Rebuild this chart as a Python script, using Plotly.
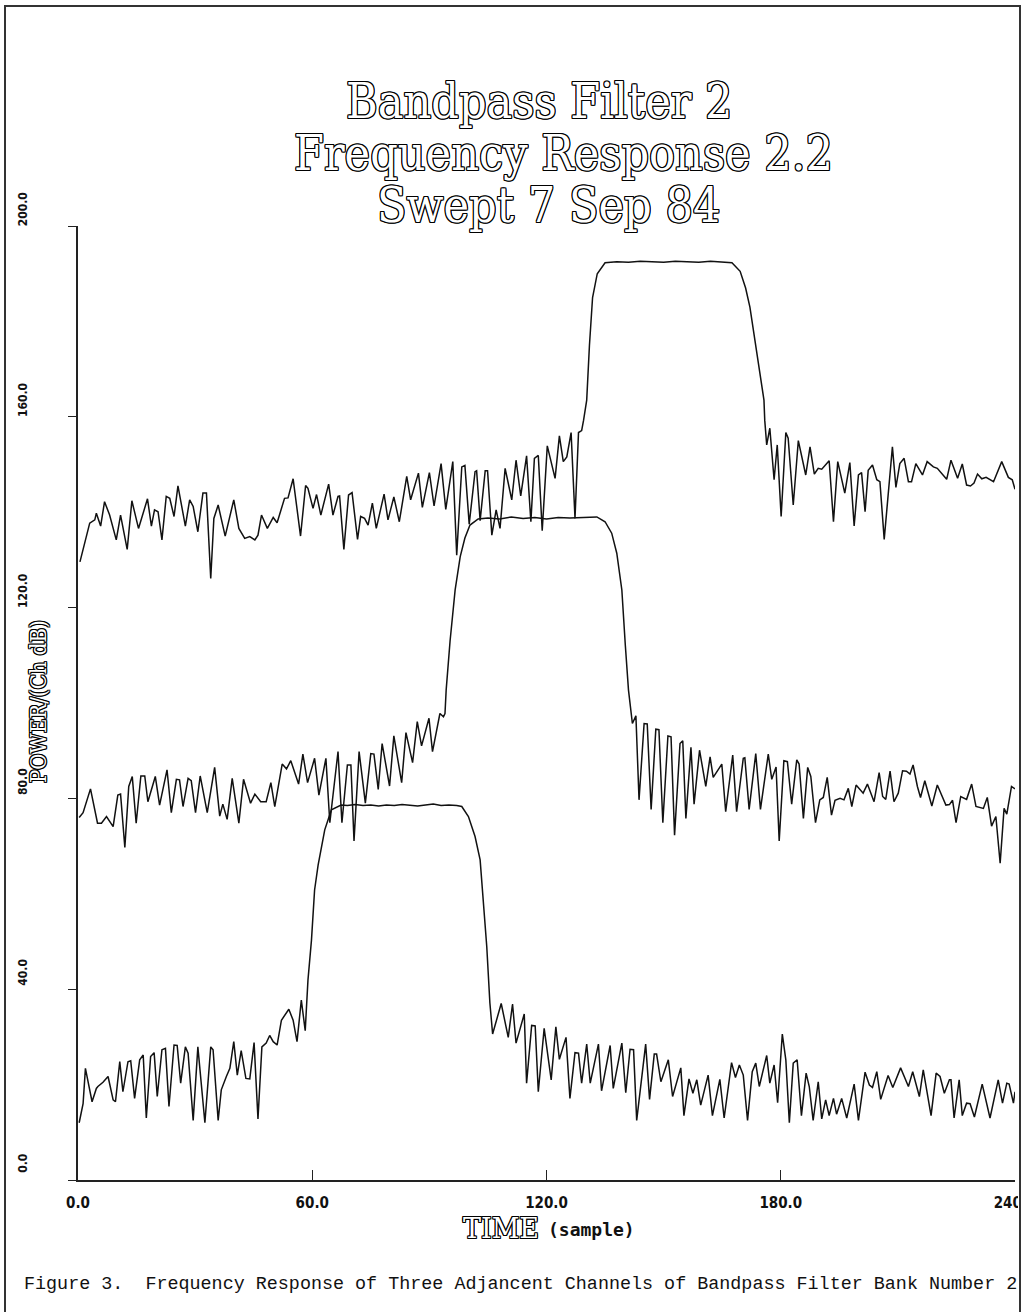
import plotly.graph_objects as go

# ---------------- data ----------------
x_ticks = [0, 60, 120, 180, 240]
x_tick_labels = ["0.0", "60.0", "120.0", "180.0", "240.0"]
y_ticks = [0, 40, 80, 120, 160, 200]
y_tick_labels = ["0.0", "40.0", "80.0", "120.0", "160.0", "200.0"]

# channel 1 (lowest trace)
ch1_x = [0.3, 1.3, 1.9, 3.6, 4.7, 5.1, 6.4, 7.7, 9.0, 9.6, 10.7, 11.5, 12.8, 13.5, 14.5, 15.8, 16.7, 17.5,
         18.6, 19.5, 20.3, 21.5, 22.4, 23.3, 24.6, 25.4, 26.3, 27.5, 28.2, 29.5, 30.7, 32.5, 34.0, 34.6,
         35.9, 36.7, 38.0, 38.9, 39.9, 40.8, 41.8, 43.0, 44.0, 45.1, 46.1, 47.1, 48.2, 49.1, 50.0, 51.0,
         52.1, 54.0, 55.1, 56.1, 57.2, 58.2, 58.9, 59.8, 60.6, 61.5, 63.2, 64.9, 67.4, 69.0, 71.0, 73.0,
         75.0, 77.0, 79.0, 81.0, 83.0, 85.0, 87.0, 89.0, 91.0, 93.0, 95.0, 97.0, 98.3, 100.0, 101.7,
         103.0, 103.6, 104.7, 105.5, 106.2, 108.4, 110.2, 111.3, 112.2, 114.3, 114.9, 116.2, 117.1,
         117.9, 119.4, 121.2, 122.4, 123.3, 125.0, 126.0, 127.3, 128.2, 129.0, 130.3, 131.2, 133.3,
         134.1, 136.3, 137.1, 139.3, 140.3, 141.4, 142.3, 143.1, 145.4, 146.4, 147.6, 148.2, 149.3,
         151.2, 152.3, 154.4, 155.2, 156.5, 157.5, 158.5, 159.5, 161.4, 162.5, 164.4, 165.5, 167.4,
         168.4, 169.4, 170.4, 171.5, 172.7, 173.6, 174.5, 176.4, 177.2, 178.3, 179.2, 180.4, 181.3,
         182.2, 183.2, 184.2, 185.3, 186.5, 187.3, 188.3, 189.6, 190.5, 191.5, 192.4, 193.5, 194.3,
         195.6, 196.9, 198.8, 199.9, 201.6, 202.7, 203.5, 204.6, 205.6, 207.5, 208.7, 210.7, 212.7,
         213.8, 215.5, 216.5, 218.5, 219.8, 220.8, 221.9, 223.2, 223.6, 224.4, 225.7, 226.5, 227.6,
         228.5, 229.6, 231.6, 233.6, 235.7, 236.8, 237.9, 238.5, 239.6, 240.0]
ch1_y = [12.0, 16.0, 23.4, 16.4, 19.2, 19.6, 20.5, 21.7, 16.8, 16.4, 24.8, 18.5, 24.8, 25.0, 17.1, 25.2, 26.2, 13.0,
         25.9, 26.7, 17.5, 27.3, 27.6, 15.4, 28.3, 28.2, 20.3, 27.9, 26.6, 12.5, 27.9, 12.0, 27.9, 27.3,
         12.5, 18.9, 21.7, 23.4, 29.0, 22.0, 27.1, 21.3, 21.2, 28.8, 12.8, 27.9, 28.7, 30.3, 29.0, 28.3,
         33.5, 35.8, 33.5, 29.0, 37.7, 31.3, 41.9, 50.3, 60.8, 66.0, 73.4, 77.6, 78.6, 78.5, 78.7, 78.5,
         78.6, 78.4, 78.6, 78.5, 78.7, 78.5, 78.4, 78.6, 78.8, 78.5, 78.6, 78.5, 78.3, 76.2, 72.0,
         67.1, 60.8, 48.9, 37.1, 30.6, 37.0, 29.9, 36.9, 28.7, 34.8, 20.3, 32.4, 32.3,
         18.5, 31.8, 21.0, 32.1, 25.3, 29.9, 17.1, 26.7, 26.6, 20.3, 28.5, 20.3, 28.5,
         18.7, 28.2, 19.2, 28.7, 18.3, 27.4, 27.3, 12.5, 28.5, 16.9, 26.4, 26.4, 20.6,
         25.2, 17.5, 23.5, 13.5, 21.2, 18.2, 21.0, 15.7, 22.0, 13.5, 21.1, 13.0, 24.6,
         21.5, 24.1, 22.0, 12.5, 22.7, 24.5, 19.6, 26.1, 20.3, 24.1, 16.2, 30.6, 25.2,
         12.0, 24.5, 25.2, 13.5, 22.4, 19.6, 12.5, 20.6, 12.8, 16.8, 13.5, 17.1, 13.8,
         17.1, 13.0, 20.1, 12.5, 22.6, 19.9, 19.4, 22.7, 16.9, 21.9, 19.4, 23.5, 19.6,
         22.7, 17.5, 23.1, 13.5, 22.4, 21.7, 18.2, 21.0, 21.0, 13.0, 21.0, 13.5, 16.1,
         16.0, 13.2, 20.1, 13.0, 21.0, 16.1, 20.3, 20.1, 16.1, 18.5]

# channel 2 (middle trace)
ch2_x = [0.3, 1.3, 3.2, 5.0, 6.0, 7.3, 9.0, 10.2, 10.9, 12.0, 13.0, 13.9, 14.9, 16.1, 17.1, 17.9, 19.8, 20.9,
         22.8, 23.9, 25.2, 26.0, 26.9, 28.2, 29.0, 30.1, 31.3, 33.1, 35.0, 36.3, 37.1, 38.2, 39.5, 41.2,
         42.4, 44.2, 45.3, 46.8, 48.2, 49.4, 50.4, 52.3, 53.4, 54.5, 56.5, 57.6, 58.8, 60.6, 61.7, 63.5,
         64.5, 66.6, 67.6, 69.0, 69.9, 70.7, 72.0, 73.6, 75.0, 75.8, 76.9, 77.9, 79.8, 80.9, 82.9, 84.0,
         85.7, 86.9, 88.0, 89.9, 90.8, 92.7, 93.6, 94.0, 94.3, 95.3, 96.6, 97.9, 99.1, 100.4, 102.5,
         105.0, 108.0, 111.0, 114.0, 117.0, 120.0, 123.0, 126.0, 129.0, 132.9, 135.0, 136.7, 138.0,
         139.3, 140.2, 141.0, 142.0, 142.9, 143.7, 145.0, 145.8, 146.8, 148.0, 148.8, 149.8, 151.1,
         151.9, 152.8, 154.2, 154.9, 155.7, 157.0, 157.8, 159.2, 160.8, 161.9, 162.7, 164.9, 165.9,
         167.7, 168.7, 170.4, 170.8, 171.9, 173.6, 174.8, 176.8, 177.7, 178.8, 179.6, 180.8, 181.7,
         182.8, 184.1, 184.7, 185.8, 186.9, 187.7, 188.9, 190.0, 190.9, 191.9, 193.0, 193.9, 195.2,
         196.2, 197.3, 198.2, 199.3, 201.1, 202.2, 203.9, 205.2, 206.1, 206.9, 208.0, 209.0, 210.1,
         211.2, 212.2, 213.1, 213.9, 215.0, 215.8, 216.9, 218.7, 220.1, 221.2, 222.3, 223.2, 224.0,
         224.9, 226.1, 227.6, 228.9, 230.0, 231.9, 232.9, 234.0, 235.1, 236.2, 237.2, 237.9, 239.1, 240.0]
ch2_y = [76.0, 77.0, 82.0, 74.8, 74.8, 76.2, 74.1, 80.7, 80.9, 69.7, 82.5, 84.6, 74.8, 84.7, 84.7, 79.3, 84.6, 78.6,
         86.0, 77.0, 84.0, 83.9, 78.3, 84.2, 83.7, 77.0, 84.7, 77.0, 86.5, 76.3, 78.8, 75.6, 84.2, 74.8,
         84.0, 79.0, 80.9, 79.3, 79.3, 83.3, 78.3, 87.2, 86.2, 87.9, 83.0, 89.3, 83.3, 88.4, 80.7, 88.4,
         74.9, 89.8, 74.9, 87.0, 87.0, 71.1, 89.8, 79.0, 89.4, 89.3, 81.9, 91.5, 82.6, 93.1, 83.3, 93.8,
         87.5, 96.1, 91.0, 96.8, 89.8, 97.8, 97.1, 97.8, 102.7, 113.0, 123.7, 130.7, 134.6, 137.3, 138.6,
         138.8, 138.6, 139.0, 138.7, 138.9, 138.6, 138.9, 138.8, 138.9, 139.0, 138.0, 135.6, 131.4,
         123.7, 112.0, 102.7, 95.7, 97.3, 79.7, 95.7, 95.6, 77.7, 94.5, 94.4, 74.9, 93.1,
         92.9, 72.3, 91.5, 92.1, 75.8, 90.7, 78.8, 90.1, 82.5, 88.7, 84.4, 87.2, 77.2,
         89.1, 77.2, 88.4, 88.5, 77.7, 89.4, 77.7, 89.3, 84.0, 86.6, 71.1, 87.9, 87.7,
         78.8, 88.1, 87.2, 75.8, 86.5, 84.6, 74.9, 79.7, 80.2, 84.4, 76.5, 79.6, 80.0,
         79.7, 82.1, 78.3, 82.8, 81.1, 83.0, 79.3, 85.4, 80.4, 79.8, 85.7, 79.3, 81.1,
         85.8, 85.7, 85.1, 87.0, 82.5, 80.2, 83.7, 78.4, 82.8, 80.7, 78.6, 78.7, 79.6,
         74.9, 80.4, 79.8, 83.0, 78.3, 77.9, 80.2, 74.2, 76.2, 66.4, 77.9, 76.7, 82.5, 82.0]

# channel 3 (top trace)
ch3_x = [0.5, 3.0, 4.3, 4.7, 5.8, 6.8, 8.1, 9.8, 10.9, 12.6, 13.8, 15.5, 17.8, 18.8, 19.6, 20.5, 21.5, 22.6,
         23.5, 24.6, 25.6, 27.5, 28.6, 29.5, 30.7, 32.0, 32.9, 34.0, 34.8, 35.9, 37.7, 39.9, 41.2, 42.7,
         44.0, 45.3, 46.1, 47.0, 48.5, 50.0, 51.0, 52.9, 53.8, 55.1, 57.0, 58.3, 58.9, 60.2, 61.1, 62.2,
         64.2, 65.3, 66.6, 67.0, 68.1, 69.3, 70.2, 71.6, 72.4, 73.4, 74.3, 75.4, 76.4, 78.4, 79.4, 80.9,
         82.3, 84.2, 85.2, 87.2, 88.2, 90.0, 91.2, 93.0, 94.2, 96.0, 97.0, 98.3, 99.1, 100.2, 101.7,
         102.1, 103.0, 104.3, 104.9, 106.0, 107.1, 108.1, 109.4, 111.1, 112.2, 113.4, 114.9, 116.0,
         116.9, 117.9, 118.9, 120.2, 122.2, 123.3, 124.3, 125.2, 126.3, 127.3, 128.2, 129.0, 129.5,
         130.3, 131.0, 131.8, 133.0, 135.0, 138.0, 141.0, 144.0, 147.0, 150.0, 153.0, 156.0, 159.0,
         162.0, 165.0, 167.5, 169.6, 171.0, 172.1, 173.4, 174.7, 175.7, 175.9, 176.4, 177.2, 178.3,
         179.1, 180.1, 181.3, 181.9, 183.2, 184.5, 186.4, 187.5, 188.6, 189.6, 190.5, 192.4, 193.5,
         194.6, 196.4, 197.7, 198.8, 199.9, 200.7, 201.6, 202.4, 203.5, 204.6, 205.4, 206.5, 208.6,
         209.5, 210.5, 211.6, 212.7, 213.5, 214.6, 216.3, 217.5, 219.1, 220.1, 222.5, 223.6, 225.3,
         226.5, 227.6, 228.6, 229.5, 230.4, 231.5, 232.6, 234.5, 236.6, 238.3, 239.3, 240.0]
ch3_y = [129.6, 137.7, 138.4, 139.8, 137.1, 142.2, 139.4, 134.2, 139.4, 132.2, 142.4, 136.6, 142.8, 137.1, 140.5,
         140.1, 134.2, 143.3, 142.9, 139.1, 145.5, 137.1, 142.6, 141.2, 135.9, 144.0, 144.0, 126.1, 138.7,
         141.5, 135.0, 142.6, 136.6, 134.5, 134.9, 134.2, 135.2, 139.4, 136.6, 138.9, 137.8, 142.9, 143.0,
         147.0, 135.0, 145.6, 145.0, 140.8, 143.7, 139.4, 145.9, 139.4, 143.3, 143.4, 132.2, 143.6, 144.1,
         134.3, 139.1, 138.7, 137.3, 141.9, 136.6, 143.8, 138.4, 143.2, 138.0, 147.5, 142.6, 148.2, 141.0,
         148.3, 141.3, 150.2, 140.6, 150.6, 131.0, 149.5, 149.8, 137.5, 148.5, 148.7, 138.2, 148.7, 148.7,
         135.2, 140.5, 136.6, 149.2, 142.6, 150.9, 143.4, 151.8, 138.0, 151.3, 151.9, 136.1, 153.9, 147.1,
         156.0, 150.6, 151.6, 156.7, 138.7, 156.7, 157.1, 159.3, 163.5, 175.0, 185.0, 190.0, 192.3, 192.5,
         192.4, 192.6, 192.5, 192.4, 192.6, 192.5, 192.4, 192.6, 192.5, 192.3, 190.5, 187.0, 183.0, 176.0,
         168.0, 163.5, 159.3, 154.1, 157.6, 146.8, 154.1, 139.1, 156.7, 155.5, 141.5, 155.0, 147.8, 153.7,
         148.0, 149.2, 149.0, 150.8, 138.0, 150.6, 144.0, 150.4, 137.1, 147.8, 148.3, 140.1, 148.8, 149.9,
         146.8, 146.4, 134.3, 153.7, 145.2, 150.2, 151.3, 146.4, 146.4, 150.2, 147.8, 150.6, 149.5, 149.2,
         146.9, 150.9, 147.1, 150.1, 145.7, 145.5, 146.1, 148.0, 147.0, 147.3, 146.4, 150.6, 147.3, 146.8,
         144.8]

title_lines = ["Bandpass Filter 2", "Frequency Response 2.2", "Swept 7 Sep 84"]
x_title_a = "TIME"
x_title_b = "(sample)"
y_title = "POWER/(Ch dB)"
caption = "Figure 3.  Frequency Response of Three Adjancent Channels of Bandpass Filter Bank Number 2"

# ---------------- figure ----------------
W, H = 1025, 1312
L, R, T, B = 78, 10, 226, 132
PW, PH = W - L - R, H - T - B


def px2paper_x(px):
    return (px - L) / PW


def px2paper_y(py):
    return (H - B - py) / PH


OUTLINE = ("1px 0 0 #000, -1px 0 0 #000, 0 1px 0 #000, 0 -1px 0 #000, "
           "1px 1px 0 #000, -1px -1px 0 #000, 1px -1px 0 #000, -1px 1px 0 #000")

fig = go.Figure()
for xs, ys in [(ch1_x, ch1_y), (ch2_x, ch2_y), (ch3_x, ch3_y)]:
    fig.add_trace(go.Scatter(x=xs, y=ys, mode="lines",
                             line=dict(color="#111111", width=1.5),
                             showlegend=False, hoverinfo="skip"))

tick_font = dict(family="DejaVu Sans Condensed", size=15, color="#111", weight="bold")

fig.update_layout(
    width=W, height=H,
    margin=dict(l=L, r=R, t=T, b=B, pad=0, autoexpand=False),
    paper_bgcolor="white", plot_bgcolor="white",
    font=dict(family="DejaVu Sans Condensed", color="#111"),
    xaxis=dict(range=[0, 240], tickmode="array", tickvals=x_ticks, ticktext=x_tick_labels,
               showgrid=False, zeroline=False, showline=True, linecolor="#222", linewidth=1.5,
               ticks="inside", ticklen=10, tickcolor="#222", tickwidth=1.2, automargin=False,
               tickfont=tick_font, ticklabelstandoff=8, ticklabeloverflow="allow"),
    yaxis=dict(range=[0, 200], tickmode="array", tickvals=y_ticks, ticktext=y_tick_labels,
               showgrid=False, zeroline=False, showline=True, linecolor="#222", linewidth=1.5,
               ticks="outside", ticklen=8, tickcolor="#222", tickwidth=1.2, automargin=False,
               tickangle=-90,
               tickfont=dict(family="DejaVu Sans Condensed", size=12, color="#111", weight="bold"),
               ticklabelstandoff=36, ticklabelshift=-15, ticklabeloverflow="allow"),
)

# title lines (outlined serif)
title_pos = [(539, 101), (563, 153), (548, 205)]
for text, (cx, cy) in zip(title_lines, title_pos):
    fig.add_annotation(text=text, xref="paper", yref="paper",
                       x=px2paper_x(cx), y=px2paper_y(cy), xanchor="center", yanchor="middle",
                       showarrow=False,
                       font=dict(family="DejaVu Serif Condensed", size=48, color="white", shadow=OUTLINE))

# x-axis title
fig.add_annotation(text=x_title_a, xref="paper", yref="paper",
                   x=px2paper_x(541), y=px2paper_y(1228), xanchor="right", yanchor="middle",
                   showarrow=False,
                   font=dict(family="DejaVu Serif", size=27, color="white", shadow=OUTLINE))
fig.add_annotation(text=x_title_b, xref="paper", yref="paper",
                   x=px2paper_x(546), y=px2paper_y(1229), xanchor="left", yanchor="middle",
                   showarrow=False,
                   font=dict(family="DejaVu Sans Mono", size=18, color="#111", weight="bold"))

# y-axis title
fig.add_annotation(text=y_title, xref="paper", yref="paper", textangle=-90,
                   x=px2paper_x(38), y=px2paper_y(702), xanchor="center", yanchor="middle",
                   showarrow=False,
                   font=dict(family="DejaVu Serif Condensed", size=22, color="white", shadow=OUTLINE))

# caption
fig.add_annotation(text=caption, xref="paper", yref="paper",
                   x=px2paper_x(22), y=px2paper_y(1284), xanchor="left", yanchor="middle",
                   showarrow=False,
                   font=dict(family="Liberation Mono", size=18.4, color="#111"))

# page border (scanned page frame)
fig.add_shape(type="rect", xref="paper", yref="paper",
              x0=px2paper_x(1018), x1=px2paper_x(1030), y0=px2paper_y(1320), y1=px2paper_y(-5),
              fillcolor="white", line=dict(width=0), layer="above")
fig.add_shape(type="rect", xref="paper", yref="paper",
              x0=px2paper_x(5), x1=px2paper_x(1020), y0=px2paper_y(1330), y1=px2paper_y(6),
              line=dict(color="#333", width=2), fillcolor="rgba(0,0,0,0)", layer="above")

fig.write_html("out.html", config={"displayModeBar": False},
               post_script="document.body.style.margin='0px';")
